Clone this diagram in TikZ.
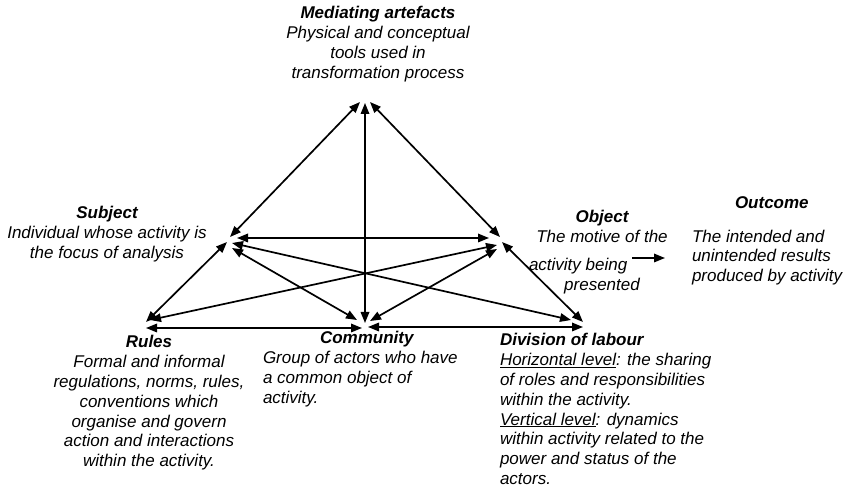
\documentclass[tikz,border=0pt]{standalone}
\usepackage{fontspec}
\setmainfont{Liberation Sans}
\usetikzlibrary{arrows.meta}
\begin{document}
\begin{tikzpicture}[x=1pt,y=-1pt,
  lbl/.style={font=\fontsize{17}{19.8}\selectfont\itshape, inner sep=0pt, outer sep=0pt},
  biarrow/.style={{Triangle[length=11pt,width=8.5pt]}-{Triangle[length=11pt,width=8.5pt]}, line width=1.7pt},
  onearrow/.style={-{Triangle[length=11pt,width=8.5pt]}, line width=1.7pt},
]
\useasboundingbox[fill=white] (0,0) rectangle (847,489);

% corners of the activity triangle
\coordinate (T) at (365,100);
\coordinate (S) at (230,237);
\coordinate (O) at (499,237);
\coordinate (R) at (146,322);
\coordinate (C) at (365,325);
\coordinate (D) at (583,322);

% labels
\node[lbl, anchor=north, align=center] (med) at (378,6.5)
  {\textbf{Mediating artefacts}\\Physical and conceptual\\tools used in\\transformation process};
\node[lbl, anchor=north, align=center] (subj) at (107,206.5)
  {\textbf{Subject}\\Individual whose activity is\\the focus of analysis};
\node[lbl, anchor=north, align=center] (obj) at (602,210.5)
  {\textbf{Object}\\The motive of the\\[8pt]\makebox[146pt][l]{activity being}\\presented};
\node[lbl, anchor=north west, align=left] (out) at (692,196.5)
  {\hspace*{43pt}\textbf{Outcome}\\[14pt]The intended and\\unintended results\\produced by activity};
\node[lbl, anchor=north, align=center] (rules) at (149,335.5)
  {\textbf{Rules}\\Formal and informal\\regulations, norms, rules,\\conventions which\\organise and govern\\action and interactions\\within the activity.};
\node[lbl, anchor=north west, align=left] (comm) at (263,331.5)
  {\hspace*{57pt}\textbf{Community}\\Group of actors who have\\a common object of\\activity.};
\node[lbl, anchor=north west, align=left] (div) at (500,333.5)
  {\textbf{Division of labour}\\\underline{Horizontal level}: the sharing\\of roles and responsibilities\\within the activity.\\\underline{Vertical level}: dynamics\\within activity related to the\\power and status of the\\actors.};

% object -> outcome
\coordinate (oa) at (632,258);
\coordinate (ob) at (665,258);
\draw[onearrow] (oa) -- (ob);

% mediating artefacts to the rest
\draw[biarrow] ([shift={(-5,2)}]T) -- (S);
\draw[biarrow] ([shift={(0,3)}]T) -- ([shift={(0,-2)}]C);
\draw[biarrow] ([shift={(5,2)}]T) -- ([shift={(1,0)}]O);

% subject and object
\draw[biarrow] ([shift={(7,1)}]S) -- ([shift={(-10,1)}]O);
\draw[biarrow] ([shift={(-3,5)}]S) -- (R);
\draw[biarrow] ([shift={(2,11)}]S) -- ([shift={(-8,-5)}]C);
\draw[biarrow] ([shift={(2,6)}]S) -- ([shift={(-12,-2)}]D);
\draw[biarrow] ([shift={(-2,8)}]O) -- ([shift={(4,-2)}]R);
\draw[biarrow] ([shift={(-2,12)}]O) -- ([shift={(5,-4)}]C);
\draw[biarrow] ([shift={(3,5)}]O) -- (D);

% base of the triangle
\draw[biarrow] ([shift={(0,6)}]R) -- ([shift={(-3,3)}]C);
\draw[biarrow] ([shift={(3,2)}]C) -- ([shift={(0,5)}]D);
\end{tikzpicture}
\end{document}
